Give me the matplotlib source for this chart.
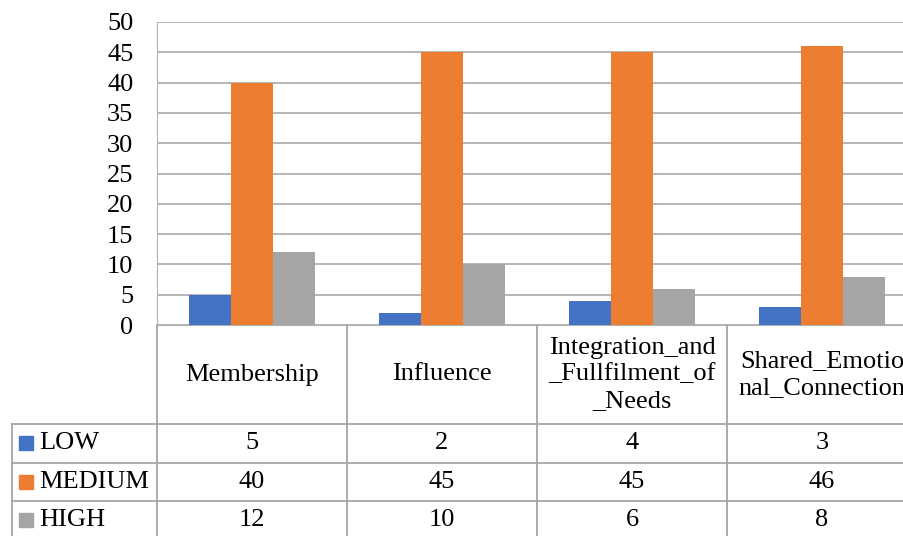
import matplotlib.pyplot as plt
import numpy as np

plt.rcParams["font.family"] = ["Liberation Serif", "DejaVu Serif"]

categories = ["Membership", "Influence", "Integration_and\n_Fullfilment_of\n_Needs",
              "Shared_Emotio\nnal_Connection"]
series = ["LOW", "MEDIUM", "HIGH"]
low = [5, 2, 4, 3]
medium = [40, 45, 45, 46]
high = [12, 10, 6, 8]
colors = ["#4472C4", "#ED7D31", "#A5A5A5"]
yticks = list(range(0, 55, 5))

W, H = 904, 536
fig = plt.figure(figsize=(W / 100, H / 100), dpi=100)

# chart area in pixel terms
left, right, top, zero = 157, 904, 22, 325
col_w = 190
ax = fig.add_axes([left / W, 1 - zero / H, (right - left) / W, (zero - top) / H])
ax.set_xlim(-0.5, -0.5 + (right - left) / col_w)
ax.set_ylim(0, 50)

x = np.arange(len(categories))
bw = 0.222
for i, (vals, c) in enumerate(zip([low, medium, high], colors)):
    ax.bar(x + (i - 1) * bw, vals, width=bw, color=c, zorder=3)

ax.set_yticks(yticks)
ax.yaxis.grid(True, color="#b0b0b0", linewidth=1.3, zorder=0)
ax.set_xticks([])
ax.tick_params(axis="y", length=0, labelsize=19, pad=17)
for s in ["top", "right"]:
    ax.spines[s].set_visible(False)
ax.spines["left"].set_color("#b0b0b0")
ax.spines["bottom"].set_color("#b0b0b0")

# data table drawn underneath in pixel coordinates
tab = fig.add_axes([0, 0, 1, 1])
tab.set_xlim(0, W)
tab.set_ylim(H, 0)
tab.axis("off")
line_kw = dict(color="#a6a6a6", linewidth=1.3)

head_bot = 424
row_h = 38.5
table_left = 12
rows_y = [head_bot + row_h * k for k in range(len(series) + 1)]
col_x = [left + col_w * k for k in range(len(categories) + 1)]

for cx in col_x[:-1]:
    tab.plot([cx, cx], [zero, H], **line_kw)
tab.plot([table_left, table_left], [head_bot, H], **line_kw)
for ry in rows_y[:-1]:
    tab.plot([table_left, W], [ry, ry], **line_kw)

for k, name in enumerate(categories):
    tab.text(left + col_w * (k + 0.5), (zero + head_bot) / 2, name,
             ha="center", va="center", fontsize=19, linespacing=1.24)

for r, (name, vals, c) in enumerate(zip(series, [low, medium, high], colors)):
    cy = head_bot + row_h * (r + 0.5)
    tab.add_patch(plt.Rectangle((19, cy - 7), 14, 14, color=c))
    tab.text(39, cy, name, ha="left", va="center", fontsize=19)
    for k, v in enumerate(vals):
        tab.text(left + col_w * (k + 0.5), cy, str(v),
                 ha="center", va="center", fontsize=19)

fig.savefig("out.png", dpi=100)
